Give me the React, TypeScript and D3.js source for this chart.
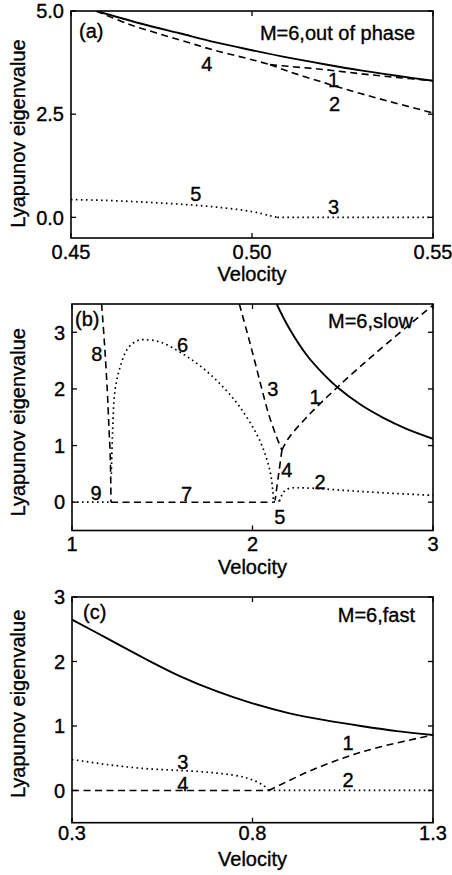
import React from 'react';
import * as d3 from 'd3';

type Pt = [number, number];

// ---- panel (a): M=6, out of phase ----
const aSolid: Pt[] = [[0.457, 5.0], [0.47, 4.68], [0.48, 4.46], [0.49, 4.24], [0.50, 4.05], [0.51, 3.87], [0.52, 3.71], [0.53, 3.56], [0.54, 3.43], [0.55, 3.31]];
const aDash4: Pt[] = [[0.457, 5.0], [0.466, 4.68], [0.48, 4.3], [0.49, 4.04], [0.50, 3.82], [0.505, 3.7]];
const aDash1: Pt[] = [[0.505, 3.7], [0.51, 3.66], [0.52, 3.58], [0.53, 3.48], [0.54, 3.39], [0.55, 3.31]];
const aDash2: Pt[] = [[0.505, 3.7], [0.51, 3.54], [0.52, 3.26], [0.53, 3.0], [0.54, 2.76], [0.55, 2.53]];
const aDot5: Pt[] = [[0.45, 0.43], [0.46, 0.41], [0.47, 0.37], [0.48, 0.32], [0.49, 0.25], [0.50, 0.14], [0.505, 0.04], [0.507, 0.0]];
const aDot3: Pt[] = [[0.507, 0.0], [0.55, 0.0]];
const aLabels = [
  { t: '4', x: 0.4875, y: 3.73 }, { t: '1', x: 0.5225, y: 3.33 }, { t: '2', x: 0.5228, y: 2.76 },
  { t: '5', x: 0.4845, y: 0.57 }, { t: '3', x: 0.5225, y: 0.245 },
];

// ---- panel (b): M=6, slow ----
const bSolid: Pt[] = [[2.134, 3.5], [2.2, 3.09], [2.3, 2.6], [2.4, 2.24], [2.47, 2.03], [2.6, 1.72], [2.725, 1.49], [2.85, 1.3], [3.0, 1.12]];
const bDash1: Pt[] = [[2.163, 0.92], [2.2, 1.13], [2.3, 1.5], [2.47, 2.03], [2.7, 2.68], [3.0, 3.48]];
const bDash3: Pt[] = [[1.927, 3.5], [1.97, 3.0], [2.01, 2.52], [2.05, 2.02], [2.09, 1.55], [2.13, 1.18], [2.163, 0.92]];
const bDash4: Pt[] = [[2.163, 0.92], [2.145, 0.5], [2.125, 0.03]];
const bDash8: Pt[] = [[1.164, 3.5], [1.18, 2.8], [1.195, 2.0], [1.205, 1.3], [1.212, 0.8], [1.215, 0.3], [1.216, 0.0]];
const bDot6: Pt[] = [[1.218, 0.5], [1.225, 1.25], [1.238, 1.97], [1.266, 2.38], [1.31, 2.72], [1.36, 2.85], [1.40, 2.87], [1.487, 2.83], [1.598, 2.65], [1.709, 2.41], [1.82, 2.09], [1.93, 1.68], [2.04, 1.09], [2.096, 0.56], [2.112, 0.21], [2.116, 0.0]];
const bDot9: Pt[] = [[1.0, 0.0], [1.216, 0.0]];
const bDash7: Pt[] = [[1.216, 0.0], [2.116, 0.0]];
const bDot5: Pt[] = [[2.116, 0.0], [2.15, 0.02]];
const bDot2: Pt[] = [[2.15, 0.02], [2.17, 0.17], [2.2, 0.24], [2.3, 0.25], [2.5, 0.21], [2.7, 0.17], [3.0, 0.12]];
const bLabels = [
  { t: '8', x: 1.137, y: 2.627 }, { t: '6', x: 1.613, y: 2.773 }, { t: '3', x: 2.112, y: 2.011 },
  { t: '1', x: 2.346, y: 1.862 }, { t: '4', x: 2.19, y: 0.57 }, { t: '2', x: 2.374, y: 0.365 },
  { t: '9', x: 1.133, y: 0.158 }, { t: '7', x: 1.635, y: 0.146 }, { t: '5', x: 2.152, y: -0.257 },
];

// ---- panel (c): M=6, fast ----
const cSolid: Pt[] = [[0.3, 2.65], [0.4, 2.35], [0.5, 2.05], [0.6, 1.77], [0.7, 1.54], [0.8, 1.35], [0.9, 1.2], [1.0, 1.09], [1.1, 1.0], [1.2, 0.92], [1.3, 0.86]];
const cDot3: Pt[] = [[0.3, 0.48], [0.4, 0.4], [0.5, 0.34], [0.6, 0.31], [0.7, 0.27], [0.78, 0.2], [0.83, 0.08], [0.845, 0.0]];
const cDash4: Pt[] = [[0.3, 0.0], [0.845, 0.0]];
const cDash1: Pt[] = [[0.845, 0.0], [0.95, 0.28], [1.05, 0.5], [1.15, 0.67], [1.3, 0.86]];
const cDot2: Pt[] = [[0.845, 0.0], [1.3, 0.0]];
const cLabels = [
  { t: '1', x: 1.0645, y: 0.735 }, { t: '2', x: 1.0645, y: 0.167 },
  { t: '3', x: 0.607, y: 0.446 }, { t: '4', x: 0.607, y: 0.11 },
];

const FONT = '"Liberation Sans", Arial, Helvetica, sans-serif';
const FS = 20;

const STYLES: Record<string, any> = {
  solid: { strokeWidth: 1.9 },
  dashed: { strokeWidth: 1.6, strokeDasharray: '7,4.5' },
  dotted: { strokeWidth: 1.7, strokeDasharray: '1.6,3.4' },
};

function Panel(props: any) {
  const { id, box, xDomain, yDomain, xTicks, yTicks, xFmt, yFmt, curves, labels, tag, title, tickBase, labelShift } = props;
  const x = d3.scaleLinear().domain(xDomain).range([box.left, box.right]);
  const y = d3.scaleLinear().domain(yDomain).range([box.bottom, box.top]);
  const line = d3.line<Pt>().x(d => x(d[0])).y(d => y(d[1])).curve(d3.curveCatmullRom.alpha(0.5));
  const tl = 5;
  const midY = (box.top + box.bottom) / 2 + labelShift;
  return (
    <g>
      <defs>
        <clipPath id={'clip' + id}>
          <rect x={box.left} y={box.top} width={box.right - box.left} height={box.bottom - box.top} />
        </clipPath>
      </defs>
      <g clipPath={`url(#clip${id})`} fill="none" stroke="#000">
        {curves.map((c: any, i: number) => (
          <path key={i} d={line(c.pts) || ''} {...STYLES[c.style]} />
        ))}
      </g>
      <rect x={box.left} y={box.top} width={box.right - box.left} height={box.bottom - box.top}
        fill="none" stroke="#000" strokeWidth={1.6} />
      {yTicks.map((t: number) => (
        <g key={'y' + t}>
          <line x1={box.left} x2={box.left + tl} y1={y(t)} y2={y(t)} stroke="#000" strokeWidth={1.3} />
          <line x1={box.right} x2={box.right - tl} y1={y(t)} y2={y(t)} stroke="#000" strokeWidth={1.3} />
          <text x={box.left - 7} y={y(t)} dy="0.36em" textAnchor="end">{yFmt(t)}</text>
        </g>
      ))}
      {xTicks.map((t: number) => (
        <g key={'x' + t}>
          <line x1={x(t)} x2={x(t)} y1={box.bottom} y2={box.bottom - tl} stroke="#000" strokeWidth={1.3} />
          <line x1={x(t)} x2={x(t)} y1={box.top} y2={box.top + tl} stroke="#000" strokeWidth={1.3} />
          <text x={x(t)} y={box.bottom + tickBase} textAnchor="middle">{xFmt(t)}</text>
        </g>
      ))}
      {labels.map((l: any, i: number) => (
        <text key={i} x={x(l.x)} y={y(l.y)} dy="0.36em" textAnchor="middle">{l.t}</text>
      ))}
      <text x={tag.x} y={tag.y}>{tag.t}</text>
      <text x={title.x} y={title.y} textAnchor="end">{title.t}</text>
      <text x={(box.left + box.right) / 2} y={box.bottom + 43} textAnchor="middle">Velocity</text>
      <text transform={`translate(25,${midY}) rotate(-90)`} textAnchor="middle">Lyapunov eigenvalue</text>
    </g>
  );
}

export default function App() {
  const f1 = d3.format('.1f');
  const f2 = d3.format('.2f');
  const f0 = d3.format('d');
  return (
    <svg width={452} height={875} style={{ position: 'absolute', left: 0, top: 0, background: '#fff' }}
      fontFamily={FONT} fontSize={FS} fill="#000" stroke="#000" strokeWidth={0.35}>
      <Panel id="a" box={{ left: 71, right: 433, top: 11, bottom: 238 }}
        xDomain={[0.45, 0.55]} yDomain={[-0.5, 5.0]} xTicks={[0.45, 0.5, 0.55]} yTicks={[0, 2.5, 5.0]}
        xFmt={f2} yFmt={f1} tickBase={21} labelShift={9}
        curves={[
          { pts: aSolid, style: 'solid' }, { pts: aDash4, style: 'dashed' }, { pts: aDash1, style: 'dashed' },
          { pts: aDash2, style: 'dashed' }, { pts: aDot5, style: 'dotted' }, { pts: aDot3, style: 'dotted' },
        ]}
        labels={aLabels} tag={{ t: '(a)', x: 79, y: 38 }} title={{ t: 'M=6,out of phase', x: 415, y: 39.5 }} />
      <Panel id="b" box={{ left: 72, right: 433, top: 304, bottom: 530.5 }}
        xDomain={[1, 3]} yDomain={[-0.5, 3.5]} xTicks={[1, 2, 3]} yTicks={[0, 1, 2, 3]}
        xFmt={f0} yFmt={f0} tickBase={20} labelShift={5}
        curves={[
          { pts: bSolid, style: 'solid' }, { pts: bDash1, style: 'dashed' }, { pts: bDash3, style: 'dashed' },
          { pts: bDash4, style: 'dashed' }, { pts: bDash8, style: 'dashed' }, { pts: bDot6, style: 'dotted' },
          { pts: bDot9, style: 'dotted' }, { pts: bDash7, style: 'dashed' }, { pts: bDot5, style: 'dotted' },
          { pts: bDot2, style: 'dotted' },
        ]}
        labels={bLabels} tag={{ t: '(b)', x: 75, y: 326 }} title={{ t: 'M=6,slow', x: 413, y: 328 }} />
      <Panel id="c" box={{ left: 72, right: 433, top: 597, bottom: 822.7 }}
        xDomain={[0.3, 1.3]} yDomain={[-0.5, 3]} xTicks={[0.3, 0.8, 1.3]} yTicks={[0, 1, 2, 3]}
        xFmt={f1} yFmt={f0} tickBase={17} labelShift={-6}
        curves={[
          { pts: cSolid, style: 'solid' }, { pts: cDot3, style: 'dotted' }, { pts: cDash4, style: 'dashed' },
          { pts: cDash1, style: 'dashed' }, { pts: cDot2, style: 'dotted' },
        ]}
        labels={cLabels} tag={{ t: '(c)', x: 83, y: 619 }} title={{ t: 'M=6,fast', x: 415, y: 621.5 }} />
    </svg>
  );
}
